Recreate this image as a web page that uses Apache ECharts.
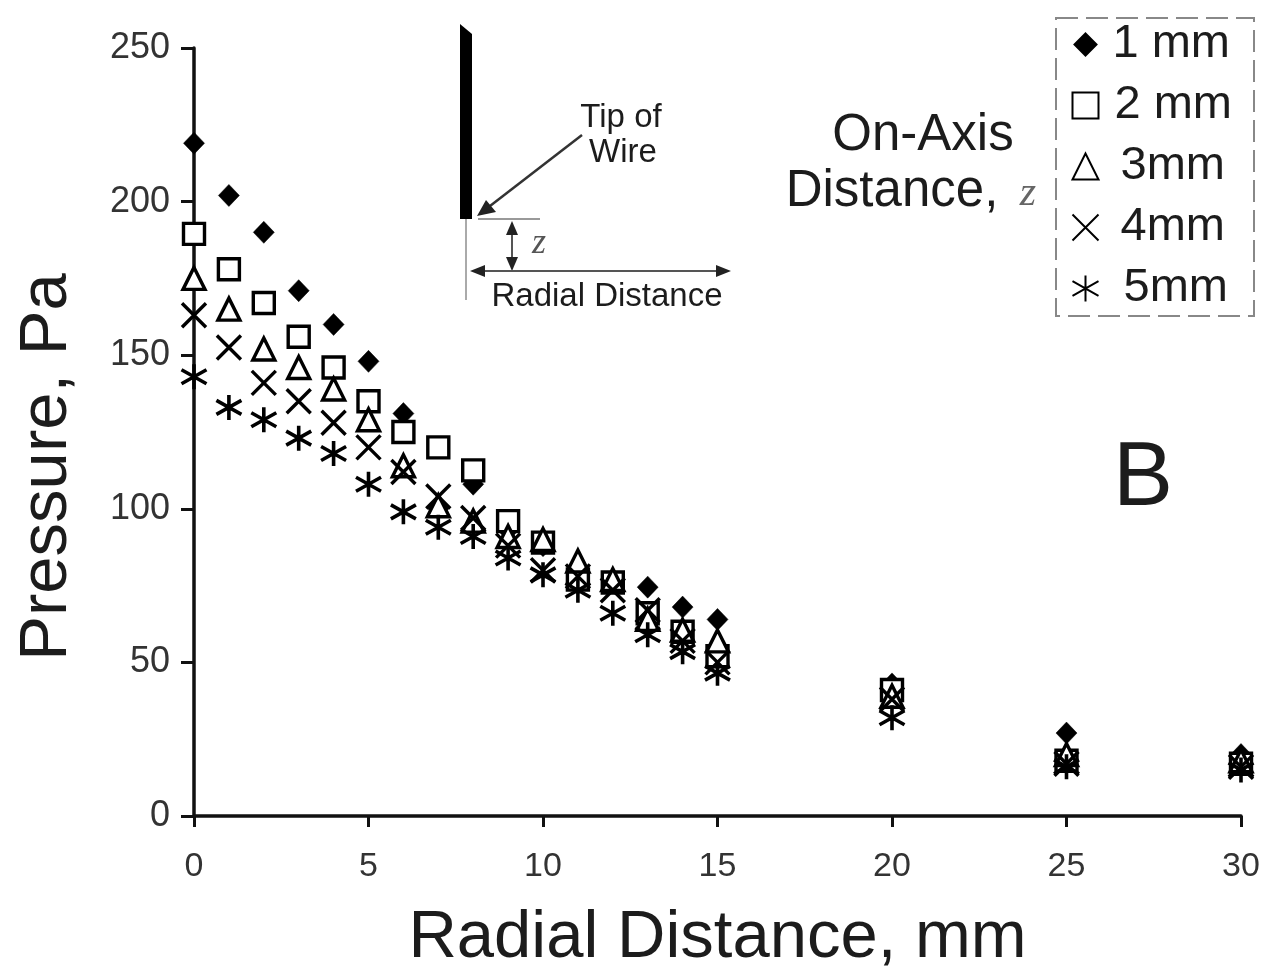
<!DOCTYPE html>
<html><head><meta charset="utf-8">
<style>html,body{margin:0;padding:0;background:#fff}#c{width:1266px;height:969px;filter:blur(0.6px)}</style>
<script src="https://cdn.jsdelivr.net/npm/echarts@6/dist/echarts.min.js"></script>
</head><body><div id="c"></div>
<script>
const radial = [0,1,2,3,4,5,6,7,8,9,10,11,12,13,14,15,20,25,30];
const z1mm = [219,202,190,171,160,148,131,100,108,93,88,78,76,74.5,68,64,43,27,20];
const z2mm = [189.5,178,167,156,146,135,125,120,112.5,96,89,77,76,66,60,52,41,18,17];
const z3mm = [175,165,152,146,139,129,114,101,96,91,90,83,77,64,60.5,57,39,20,18];
const z4mm = [163,152.5,141,135,128,120,112,104,97,88,80,78,73.5,67,57,50,38,17,16];
const z5mm = [143,133,129,123,118,108,99,94,91,84,78.5,73.5,66,59,53.5,46.5,32,16,15];
const names = ['1 mm','2 mm','3mm','4mm','5mm'];
const xTicks = [0,5,10,15,20,25,30];
const yTicks = [0,50,100,150,200,250];
const FONT = '"Liberation Sans", Arial, sans-serif';
const INK = '#1c1c1c';
const SYM_CROSS = 'path://M0 0L10 10M10 0L0 10';
const SYM_STAR = 'path://M0 2.2L10 7.8M0 7.8L10 2.2M5 0L5 10';
const LEG_DIAMOND = 'path://M0 0L0 0M26 26L26 26M13 2L24 13L13 24L2 13Z';
const LEG_SQUARE = 'path://M0 0L26 0L26 26L0 26Z';
const LEG_TRI = 'path://M13 0L26 26L0 26Z';
const zip = a => a.map((v,i)=>[radial[i],v]);
const mk = (name,data,symbol,size,fill,bw) => ({
  type:'scatter', name, data:zip(data), symbol, symbolSize:size, clip:false,
  itemStyle:{color:fill,borderColor:'#000',borderWidth:bw,opacity:1}
});
const txt = (x,y,text,size,extra={}) => ({type:'text',x,y,silent:true,z:10,
  style:Object.assign({text,font:`${size}px ${FONT}`,fill:INK,textAlign:'center',textVerticalAlign:'middle'},extra)});
const line = (x1,y1,x2,y2,w,color,dash) => ({type:'line',silent:true,shape:{x1,y1,x2,y2},
  style:{stroke:color,lineWidth:w,lineDash:dash||null}});
const poly = (points,fill) => ({type:'polygon',silent:true,shape:{points},style:{fill}});
const legendShift = [9,11,17,17,20];
const legendIcons = [LEG_DIAMOND,LEG_SQUARE,LEG_TRI,SYM_CROSS,SYM_STAR];
const chart = echarts.init(document.getElementById('c'),null,{renderer:'canvas'});
chart.setOption({
  animation:false, backgroundColor:'#fff',
  grid:{left:194,top:48,width:1047,height:768,outerBoundsMode:'none'},
  xAxis:{type:'value',min:0,max:30,interval:5,name:'Radial Distance, mm',nameLocation:'middle',nameGap:89,
    nameTextStyle:{fontFamily:FONT,fontSize:67,color:INK},
    axisLine:{onZero:false,lineStyle:{color:'#111',width:3.5}},
    axisTick:{length:11,lineStyle:{color:'#111',width:3}},
    axisLabel:{fontFamily:FONT,fontSize:34,color:'#333',margin:34,formatter:v=>xTicks.includes(v)?String(v):''},
    splitLine:{show:false}},
  yAxis:{type:'value',min:0,max:250,interval:50,name:'Pressure, Pa',nameLocation:'middle',nameGap:113,
    nameTextStyle:{fontFamily:FONT,fontSize:67,color:INK,padding:[0,70,0,0]},
    axisLine:{onZero:false,lineStyle:{color:'#111',width:3.5}},
    axisTick:{length:13,lineStyle:{color:'#111',width:3}},
    axisLabel:{fontFamily:FONT,fontSize:36,color:'#333',margin:24,formatter:v=>yTicks.includes(v)?String(v):''},
    splitLine:{show:false}},
  legend:{orient:'vertical',left:1056,top:18,padding:[3,22,4,14],itemGap:14,itemWidth:26,itemHeight:26,
    borderColor:'#888',borderWidth:2,borderType:[22,8],
    textStyle:{fontFamily:FONT,fontSize:47,color:INK},
    data:names.map((name,i)=>({name,icon:legendIcons[i],textStyle:{padding:[0,0,0,legendShift[i]]}}))},
  series:[
    mk(names[0],z1mm,'diamond',[21,22],'#000',0.5),
    mk(names[1],z2mm,'rect',21,'#fff',3.4),
    mk(names[2],z3mm,'triangle',[22,22],'#fff',3.4),
    mk(names[3],z4mm,SYM_CROSS,24,'none',3.4),
    mk(names[4],z5mm,SYM_STAR,25,'none',3.6)
  ],
  graphic:[
    poly([[460,24],[472,34],[472,219],[460,219]],'#000'),
    line(466,219,466,300,2,'#aaa'),
    line(478,219,540,219,1.5,'#777'),
    line(582,135,490,206,2.5,'#333'),
    poly([[477,216],[486,200],[496,212]],'#222'),
    line(512,226,512,266,2,'#555'),
    poly([[512,221],[506,235],[518,235]],'#222'),
    poly([[512,271],[506,257],[518,257]],'#222'),
    line(480,271,722,271,2,'#555'),
    poly([[470,271],[485,265],[485,277]],'#222'),
    poly([[731,271],[716,265],[716,277]],'#222'),
    txt(621,118,'Tip of',33),
    txt(623,153,'Wire',33),
    txt(539,244,'z',32,{font:`italic 36px "Liberation Serif", serif`,fill:'#555'}),
    txt(607,297,'Radial Distance',33),
    txt(923,136,'On-Axis',51),
    txt(892,192,'Distance,',51),
    txt(1028,194,'z',40,{font:`italic 42px "Liberation Serif", serif`,fill:'#666'}),
    txt(1143,480,'B',90)
  ]
});
</script></body></html>
